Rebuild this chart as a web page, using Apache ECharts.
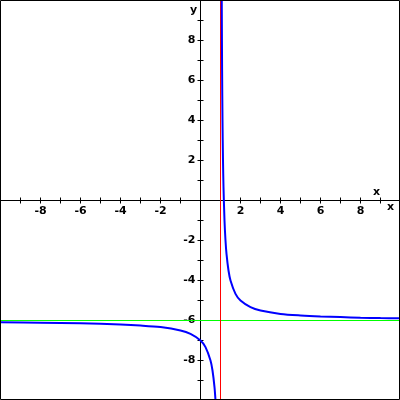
<!DOCTYPE html>
<html>
<head>
<meta charset="utf-8">
<script src="https://cdn.jsdelivr.net/npm/echarts@6/dist/echarts.min.js"></script>
<style>
html,body{margin:0;padding:0;background:#fff;}
#c{width:400px;height:400px;}
</style>
</head>
<body>
<div id="c"></div>
<script>
const rightBranchX = [1.0625, 1.08, 1.1, 1.125, 1.15, 1.2, 1.25, 1.3, 1.4, 1.5, 1.75, 2, 2.5, 3, 4, 5, 6, 7, 8, 9, 10];
const rightBranchY = [10, 6.5, 4, 2, 0.67, -1, -2, -2.67, -3.5, -4, -4.67, -5, -5.33, -5.5, -5.67, -5.75, -5.8, -5.83, -5.86, -5.88, -5.89];
const leftBranchX = [-10, -8, -6, -4, -3, -2, -1, -0.5, 0, 0.25, 0.5, 0.6, 0.7, 0.75];
const leftBranchY = [-6.09, -6.11, -6.14, -6.2, -6.25, -6.33, -6.5, -6.67, -7, -7.33, -8, -8.5, -9.33, -10];
const verticalAsymptoteX = 1;
const horizontalAsymptoteY = -6;
const axisRange = [-10, 10];

const zip = (xs, ys) => xs.map((x, i) => [x, ys[i]]);
const labelFmt = v => (v !== 0 && v % 2 === 0 && Math.abs(v) < 10) ? String(v) : '';
const FONT = 'DejaVu Sans, Liberation Sans, sans-serif';
const labelStyle = {color: '#000', fontWeight: 'bold', fontSize: 11, fontFamily: FONT};
const SIZE = 400;

function ax(pos, showLabel, margin) {
  return {
    type: 'value', min: axisRange[0], max: axisRange[1], interval: 1, position: pos,
    offset: -SIZE / 2,
    axisLine: {onZero: false, lineStyle: {color: '#000', width: 1}},
    axisTick: {show: true, length: 3, lineStyle: {color: '#000', width: 1}},
    axisLabel: Object.assign({show: showLabel, formatter: labelFmt, margin: margin, hideOverlap: false}, labelStyle),
    splitLine: {show: false}
  };
}

const chart = echarts.init(document.getElementById('c'), null, {renderer: 'canvas'});
chart.setOption({
  animation: false,
  backgroundColor: '#fff',
  grid: {left: 0.5, right: -0.5, top: 0.5, bottom: -0.5, show: false, containLabel: false, outerBoundsMode: 'none'},
  xAxis: [ax('bottom', true, 5), ax('top', false, 5)],
  yAxis: [ax('left', true, 5), ax('right', false, 5)],
  graphic: [
    {type: 'rect', shape: {x: 0.5, y: 0.5, width: 399, height: 399}, style: {fill: 'none', stroke: '#000', lineWidth: 1}, z: 100},
    {type: 'text', left: 373, top: 187, style: {text: 'x', font: 'bold 11px ' + FONT, fill: '#000'}},
    {type: 'text', left: 387, top: 202, style: {text: 'x', font: 'bold 11px ' + FONT, fill: '#000'}},
    {type: 'text', left: 190, top: 5, style: {text: 'y', font: 'bold 11px ' + FONT, fill: '#000'}}
  ],
  series: [
    {type: 'line', data: [[axisRange[0], horizontalAsymptoteY], [axisRange[1], horizontalAsymptoteY]],
     symbol: 'none', lineStyle: {color: '#00ff00', width: 1}, z: 3},
    {type: 'line', data: [[verticalAsymptoteX, axisRange[0]], [verticalAsymptoteX, axisRange[1]]],
     symbol: 'none', lineStyle: {color: '#ff0000', width: 1}, z: 4},
    {type: 'line', data: zip(rightBranchX, rightBranchY), symbol: 'none', smooth: 0.3,
     lineStyle: {color: '#0000ff', width: 2}, z: 5},
    {type: 'line', data: zip(leftBranchX, leftBranchY), symbol: 'none', smooth: 0.3,
     lineStyle: {color: '#0000ff', width: 2}, z: 5}
  ]
});
</script>
</body>
</html>
